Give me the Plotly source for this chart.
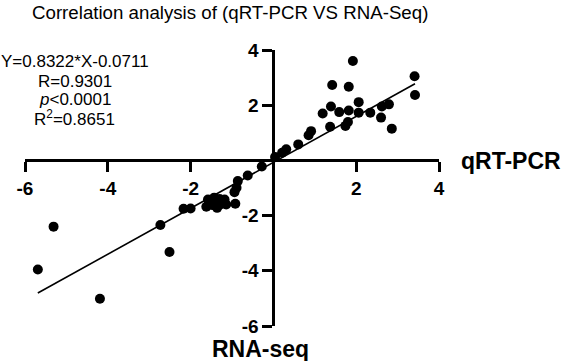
import plotly.graph_objects as go
import numpy as np

rnaseq_x = [-5.31, -5.69, -4.19, -2.73, -2.51, -2.17, -2.00, -1.62, -1.58, -1.47,
            -1.43, -1.36, -1.30, -1.28, -1.18, -1.14, -1.22, -0.92, -0.94, -0.89,
            -0.86, -0.62, -0.28,
            0.04, 0.21, 0.31, 0.60, 0.85, 0.91, 1.19, 1.39, 1.42, 1.82, 1.92,
            1.59, 1.82, 2.06, 2.06, 2.34, 2.62, 2.79, 2.60, 2.86, 1.37, 1.74,
            1.80, 3.41, 3.42]
qpcr_y = [-2.40, -3.95, -5.01, -2.34, -3.32, -1.75, -1.74, -1.68, -1.42, -1.62,
          -1.35, -1.72, -1.40, -1.60, -1.42, -1.60, -1.50, -1.57, -1.15, -0.99,
          -0.75, -0.55, -0.22,
          0.12, 0.28, 0.40, 0.58, 0.91, 1.06, 1.70, 1.95, 2.73, 2.67, 3.60,
          1.75, 1.81, 2.11, 1.73, 1.73, 1.95, 2.03, 1.55, 1.15, 1.22, 1.25,
          1.39, 3.05, 2.37]

slope = 0.8322
intercept = -0.0711
tick_vals = [-6, -4, -2, 2, 4]
tick_text = ["-6", "-4", "-2", "2", "4"]
stat_lines = [f"Y={slope}*X{intercept}", "R=0.9301", "<i>p</i><0.0001",
              "R<sup>2</sup>=0.8651"]

FONT = "Arial, Liberation Sans, sans-serif"
W, H = 566, 361
ML, MR, MT, MB = 25, 127, 50, 35
PW, PH = W - ML - MR, H - MT - MB

fit_x = np.array([min(rnaseq_x), max(rnaseq_x)])
fit_y = slope * fit_x + intercept

fig = go.Figure()
fig.add_trace(go.Scatter(x=fit_x, y=fit_y, mode="lines",
                         line=dict(color="black", width=1.6),
                         hoverinfo="skip", showlegend=False))
fig.add_trace(go.Scatter(x=rnaseq_x, y=qpcr_y, mode="markers",
                         marker=dict(color="black", size=10),
                         cliponaxis=False, showlegend=False))

axis_common = dict(range=[-6, 4], tickvals=tick_vals, ticktext=tick_text,
                   showline=True, linecolor="black", linewidth=3,
                   ticks="outside", ticklen=10, tickwidth=3, tickcolor="black",
                   showgrid=False, zeroline=False, anchor="free", position=0.6,
                   tickfont=dict(family=FONT, size=19, color="black", weight="bold"))

annotations = [
    dict(text="qRT-PCR", x=1, y=0, xref="paper", yref="y",
         xanchor="left", yanchor="middle", xshift=20, yshift=-1, showarrow=False,
         font=dict(family=FONT, size=23, color="black", weight="bold")),
    dict(text="RNA-seq", x=0, y=-6, xref="x", yref="y",
         xanchor="center", yanchor="top", xshift=-13, yshift=-8, showarrow=False,
         font=dict(family=FONT, size=23, color="black", weight="bold")),
]
for line, ypx in zip(stat_lines, [62, 81, 99, 118]):
    annotations.append(dict(text=line, x=(74.5 - ML) / PW, y=(H - MB - ypx) / PH,
                            xref="paper", yref="paper", xanchor="center",
                            yanchor="middle", showarrow=False,
                            font=dict(family=FONT, size=17, color="black")))

fig.update_layout(
    width=W, height=H,
    margin=dict(l=ML, r=MR, t=MT, b=MB),
    paper_bgcolor="white", plot_bgcolor="white",
    xaxis=axis_common,
    yaxis=axis_common,
    title=dict(text="Correlation analysis of (qRT-PCR VS RNA-Seq)",
               x=32 / W, xanchor="left", xref="container",
               y=1 - 12 / H, yanchor="middle", yref="container",
               font=dict(family=FONT, size=18.7, color="black")),
    annotations=annotations,
)

fig.write_html("out.html")
